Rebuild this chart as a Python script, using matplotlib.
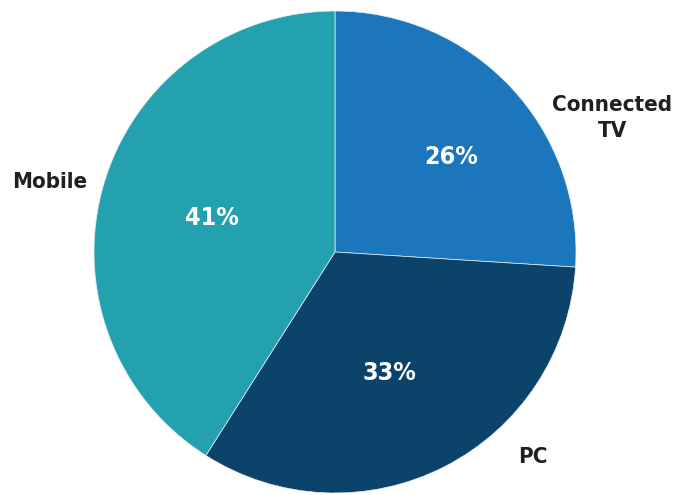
import matplotlib.pyplot as plt

# device share
labels = ["Connected\nTV", "PC", "Mobile"]
shares = [26, 33, 41]
colors = ["#1B76BC", "#0B436B", "#24A1AF"]

plt.rcParams['font.family'] = ['DejaVu Sans']
plt.rcParams['font.stretch'] = 'condensed'

fig = plt.figure(figsize=(6.74, 4.95), dpi=100)
ax = fig.add_axes([0, 0, 1, 1])

cx, cy, r = 335, 495 - 252, 241
wedges, _ = ax.pie(shares, colors=colors, startangle=90, counterclock=False,
                   center=(cx, cy), radius=r, frame=True,
                   wedgeprops=dict(edgecolor="#e8f0f5", linewidth=0.5))
ax.set_xlim(0, 674)
ax.set_ylim(0, 495)
ax.set_aspect("equal")
ax.axis("off")

# percentage labels inside the slices
pct_pos = [(451, 157), (389, 373), (212, 218)]
for v, (x, y) in zip(shares, pct_pos):
    ax.text(x, 495 - y, f"{v}%", color="white", fontsize=18, fontweight="bold",
            fontstretch="condensed", ha="center", va="center")

# category labels outside
lab_pos = [(612, 118), (533, 457), (50, 182)]
for lab, (x, y) in zip(labels, lab_pos):
    ax.text(x, 495 - y, lab, color="#231F20", fontsize=16, fontweight="bold",
            fontstretch="condensed", ha="center", va="center", linespacing=1.35)

fig.savefig("out.png", dpi=100)
